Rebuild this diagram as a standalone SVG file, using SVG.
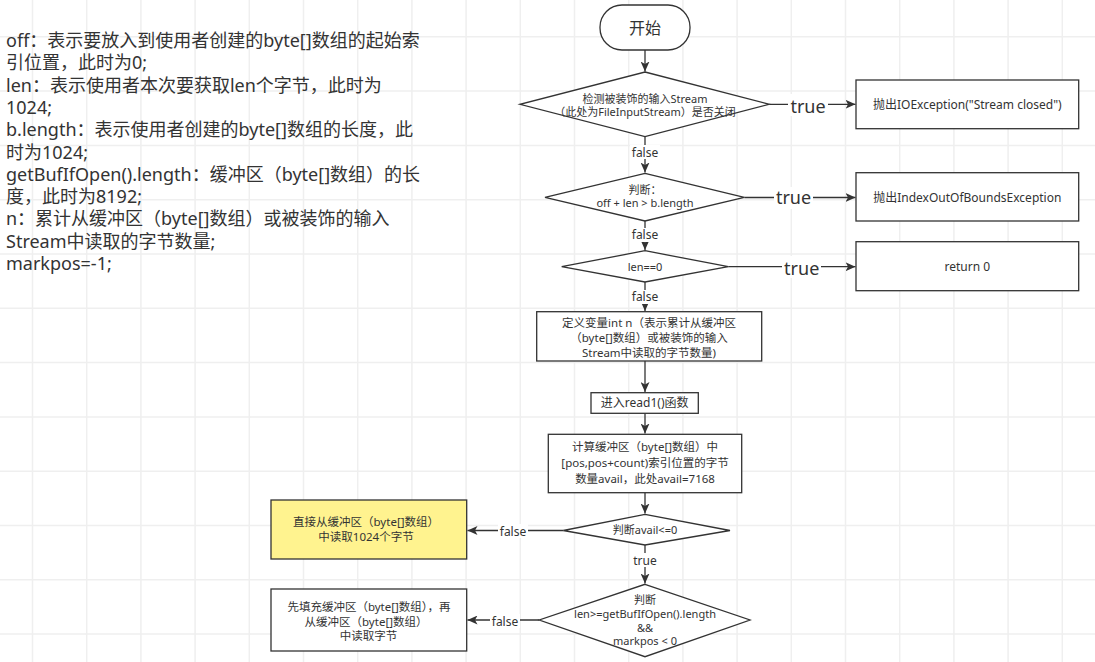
<svg xmlns="http://www.w3.org/2000/svg" width="1095" height="662" viewBox="0 0 1095 662">
<defs>
<marker id="arr" markerUnits="userSpaceOnUse" markerWidth="11" markerHeight="9" refX="10" refY="4.5" orient="auto">
<path d="M0,0 L10,4.5 L0,9 L2.5,4.5 z" fill="#333"/>
</marker>
<style>
.t{font-family:"Noto Sans","Noto Sans CJK SC",sans-serif;fill:#333}
.n{fill:#fff;stroke:#333;stroke-width:1.3}
.c{fill:none;stroke:#333;stroke-width:1.3}
.ca{fill:none;stroke:#333;stroke-width:1.3;marker-end:url(#arr)}
.s12{font-size:12px}
.s115{font-size:11.5px}
.s11{font-size:11px}
.lbl{font-size:12px}
.big{font-size:18px}
.bg{fill:#fff}
</style>
</defs>
<rect width="1095" height="662" fill="#fff"/>
<path stroke="#efefef" stroke-width="1.5" fill="none" d="M32.5 0V662M86.7 0V662M140.9 0V662M195.1 0V662M249.3 0V662M303.5 0V662M357.7 0V662M411.9 0V662M466.1 0V662M520.3 0V662M574.5 0V662M628.7 0V662M682.9 0V662M737.1 0V662M791.3 0V662M845.5 0V662M899.7 0V662M953.9 0V662M1008.1 0V662M1062.3 0V662M0 36.8H1095M0 91.1H1095M0 145.4H1095M0 199.7H1095M0 254H1095M0 308.3H1095M0 362.6H1095M0 416.9H1095M0 471.2H1095M0 525.5H1095M0 579.8H1095M0 634.1H1095"/>

<g id="notes" class="t big">
<text x="6" y="47">off：表示要放入到使用者创建的byte[]数组的起始索</text>
<text x="6" y="69.3">引位置，此时为0;</text>
<text x="6" y="91.6">len：表示使用者本次要获取len个字节，此时为</text>
<text x="6" y="113.9">1024;</text>
<text x="6" y="136.2">b.length：表示使用者创建的byte[]数组的长度，此</text>
<text x="6" y="158.5">时为1024;</text>
<text x="6" y="180.8">getBufIfOpen().length：缓冲区（byte[]数组）的长</text>
<text x="6" y="203.1">度，此时为8192;</text>
<text x="6" y="225.4">n：累计从缓冲区（byte[]数组）或被装饰的输入</text>
<text x="6" y="247.7">Stream中读取的字节数量;</text>
<text x="6" y="270">markpos=-1;</text>
</g>

<g id="connectors">
<path class="ca" d="M645 50V71.5"/>
<path class="ca" d="M645 136.7V172.5"/>
<path class="ca" d="M645 221V250"/>
<path class="ca" d="M645 281.7V311"/>
<path class="ca" d="M645 361V392"/>
<path class="ca" d="M645 413.3V433.5"/>
<path class="ca" d="M645 492.7V513.5"/>
<path class="ca" d="M645 545V583.5"/>
<path class="ca" d="M769.3 104.3H855.5"/>
<path class="ca" d="M744.3 197.5H855.5"/>
<path class="ca" d="M728.3 266.7H855.5"/>
<path class="ca" d="M563.3 530.5H467.5"/>
<path class="ca" d="M539.3 620H467.5"/>
<g id="labels">
<rect class="bg" x="630" y="145" width="30" height="14"/>
<text class="t lbl" x="645" y="156.5" text-anchor="middle">false</text>
<rect class="bg" x="630" y="228" width="30" height="14"/>
<text class="t lbl" x="645" y="239" text-anchor="middle">false</text>
<rect class="bg" x="630" y="290" width="30" height="14"/>
<text class="t lbl" x="645" y="301" text-anchor="middle">false</text>
<rect class="bg" x="632" y="553" width="26" height="14"/>
<text class="t lbl" x="645" y="564.5" text-anchor="middle">true</text>
<rect class="bg" x="498" y="524" width="30" height="14"/>
<text class="t lbl" x="513" y="535.5" text-anchor="middle">false</text>
<rect class="bg" x="490" y="614" width="30" height="14"/>
<text class="t lbl" x="505" y="626" text-anchor="middle">false</text>
<rect class="bg" x="788" y="94" width="40" height="22"/>
<text class="t big" x="808" y="112.5" text-anchor="middle">true</text>
<rect class="bg" x="774" y="187" width="39" height="22"/>
<text class="t big" x="793.5" y="204" text-anchor="middle">true</text>
<rect class="bg" x="782" y="256" width="39" height="22"/>
<text class="t big" x="801.7" y="274.5" text-anchor="middle">true</text>
</g>
</g>

<g id="start">
<rect class="n" x="600" y="5" width="90" height="45" rx="22" ry="22"/>
<text class="t" font-size="16" x="645" y="33.5" text-anchor="middle">开始</text>
</g>

<g id="d1">
<polygon class="n" points="645,72 769.3,104.3 645,136.7 520,104.3"/>
<text class="t s11" x="645" y="103.3" text-anchor="middle">检测被装饰的输入Stream</text>
<text class="t s11" x="645" y="116.3" text-anchor="middle">（此处为FileInputStream）是否关闭</text>
</g>

<g id="b1">
<rect class="n" x="856" y="80" width="222.7" height="48.7"/>
<text class="t s12" x="967.3" y="108.5" text-anchor="middle">抛出IOException("Stream closed")</text>
</g>

<g id="d2">
<polygon class="n" points="645,173.3 744.3,197.3 645,221 545,197.3"/>
<text class="t s11" x="645" y="194" text-anchor="middle">判断：</text>
<text class="t s11" x="645" y="207.3" text-anchor="middle">off + len &gt; b.length</text>
</g>

<g id="b2">
<rect class="n" x="856" y="172.7" width="222.7" height="48.3"/>
<text class="t s12" x="967.3" y="202" text-anchor="middle">抛出IndexOutOfBoundsException</text>
</g>

<g id="d3">
<polygon class="n" points="645,250.7 728.3,266.7 645,282 561.7,266.7"/>
<text class="t s11" x="645" y="270.7" text-anchor="middle">len==0</text>
</g>

<g id="b3">
<rect class="n" x="856" y="241.7" width="222.7" height="49"/>
<text class="t s12" x="967.3" y="271" text-anchor="middle">return 0</text>
</g>

<g id="b4">
<rect class="n" x="536.7" y="311.7" width="225" height="49.3"/>
<text class="t s115" x="649" y="326.7" text-anchor="middle">定义变量int n（表示累计从缓冲区</text>
<text class="t s115" x="649" y="341.5" text-anchor="middle">（byte[]数组）或被装饰的输入</text>
<text class="t s115" x="649" y="356.5" text-anchor="middle">Stream中读取的字节数量)</text>
</g>

<g id="b5">
<rect class="n" x="591" y="392.7" width="107.3" height="20.6"/>
<text class="t s12" x="644.7" y="407.2" text-anchor="middle">进入read1()函数</text>
</g>

<g id="b6">
<rect class="n" x="548.3" y="434.3" width="193.4" height="58.4"/>
<text class="t s115" x="645" y="451.3" text-anchor="middle">计算缓冲区（byte[]数组）中</text>
<text class="t s115" x="645" y="467" text-anchor="middle">[pos,pos+count)索引位置的字节</text>
<text class="t s115" x="645" y="482.5" text-anchor="middle">数量avail，此处avail=7168</text>
</g>

<g id="d4">
<polygon class="n" points="645,514.3 730,530.5 645,545 563.3,530.5"/>
<text class="t s11" x="645" y="534" text-anchor="middle">判断avail&lt;=0</text>
</g>

<g id="d5">
<polygon class="n" points="645,584.3 750,620 645,656.7 539.3,620"/>
<text class="t s11" x="645" y="604" text-anchor="middle">判断</text>
<text class="t s11" x="645" y="618" text-anchor="middle">len&gt;=getBufIfOpen().length</text>
<text class="t s11" x="645" y="631.7" text-anchor="middle">&amp;&amp;</text>
<text class="t s11" x="645" y="645" text-anchor="middle">markpos &lt; 0</text>
</g>

<g id="yellow">
<rect x="271" y="500" width="195.7" height="59" fill="#fff38f" stroke="#333" stroke-width="1.3"/>
<text class="t s115" x="366" y="526" text-anchor="middle">直接从缓冲区（byte[]数组）</text>
<text class="t s115" x="366" y="541" text-anchor="middle">中读取1024个字节</text>
</g>

<g id="fill">
<rect class="n" x="271" y="589" width="195.7" height="62"/>
<text class="t s115" x="369" y="611" text-anchor="middle">先填充缓冲区（byte[]数组），再</text>
<text class="t s115" x="366" y="625.5" text-anchor="middle">从缓冲区（byte[]数组）</text>
<text class="t s115" x="368.5" y="640" text-anchor="middle">中读取字节</text>
</g>
</svg>
